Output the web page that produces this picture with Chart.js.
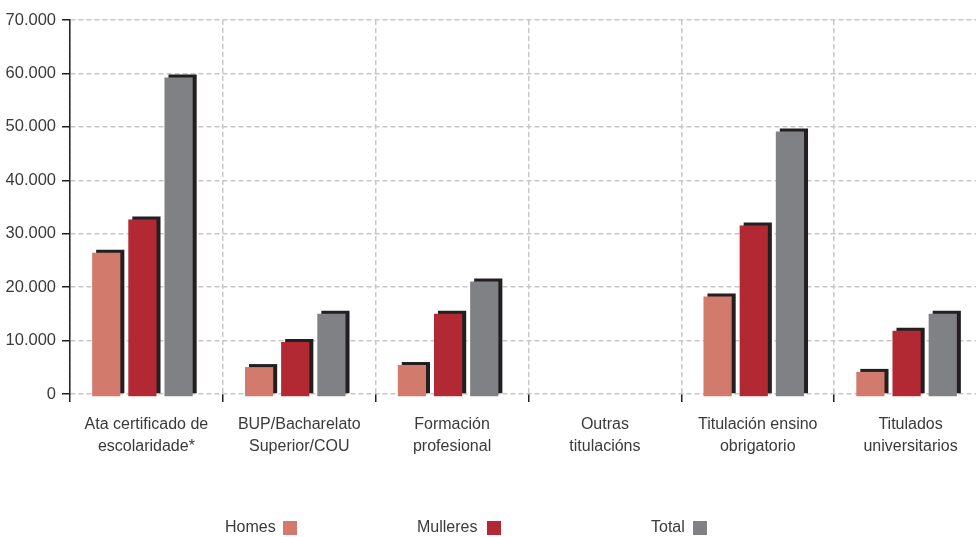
<!DOCTYPE html>
<html>
<head>
<meta charset="utf-8">
<script src="https://cdn.jsdelivr.net/npm/chart.js@4.4.1/dist/chart.umd.min.js"></script>
<style>
    html, body { margin: 0; padding: 0; background: #fff; overflow: hidden; }
    #frame { position: relative; width: 976px; height: 537px; overflow: hidden; }
    #box { position: absolute; left: 0; top: 0; width: 990px; height: 537px; }
    .lg-text { position: absolute; top: 516px; font: 16px 'Liberation Sans', Arial, sans-serif; color: #3a3a3a; line-height: 22px; }
    .lg-box { position: absolute; top: 521px; width: 14px; height: 14px; }
</style>
</head>
<body>
<div id="frame">
    <div id="box"><canvas id="chart"></canvas></div>
    <span class="lg-text" style="left:225px">Homes</span>
    <span class="lg-box" style="left:283px;background:#d27a6c"></span>
    <span class="lg-text" style="left:417px">Mulleres</span>
    <span class="lg-box" style="left:487px;background:#b22833"></span>
    <span class="lg-text" style="left:651px">Total</span>
    <span class="lg-box" style="left:693px;background:#808185"></span>
</div>
<script>
const categories = [
    ['Ata certificado de', 'escolaridade*'],
    ['BUP/Bacharelato', 'Superior/COU'],
    ['Formación', 'profesional'],
    ['Outras', 'titulacións'],
    ['Titulación ensino', 'obrigatorio'],
    ['Titulados', 'universitarios']
];
const homes = [27000, 5600, 6000, 0, 18800, 4700];
const mulleres = [33200, 10300, 15600, 0, 32100, 12400];
const total = [59800, 15600, 21600, 0, 49700, 15600];
const yTicks = [0, 10000, 20000, 30000, 40000, 50000, 60000, 70000];

const fontFamily = "'Liberation Sans', Arial, sans-serif";
const textColor = '#3a3a3a';
const gridColor = '#c8c8c8';

function formatThousands(v) {
    return String(v).replace(/\B(?=(\d{3})+(?!\d))/g, '.');
}

// dark offset block behind each bar, coloured face shifted down-left
const barShadow = {
    id: 'barShadow',
    beforeDatasetDraw(chart) {
        const ctx = chart.ctx;
        ctx.save();
        ctx.translate(-4, 3);
        ctx.shadowColor = '#231f20';
        ctx.shadowOffsetX = 4;
        ctx.shadowOffsetY = -3;
        ctx.shadowBlur = 0;
    },
    afterDatasetDraw(chart) {
        chart.ctx.restore();
    }
};

const ctx = document.getElementById('chart').getContext('2d');
new Chart(ctx, {
    type: 'bar',
    data: {
        labels: categories,
        datasets: [
            { label: 'Homes', data: homes, backgroundColor: '#d27a6c', clip: false },
            { label: 'Mulleres', data: mulleres, backgroundColor: '#b22833', clip: false },
            { label: 'Total', data: total, backgroundColor: '#808185', clip: false }
        ]
    },
    options: {
        responsive: true,
        maintainAspectRatio: false,
        animation: false,
        layout: { padding: { left: 0, right: 3, top: 20, bottom: 0 } },
        datasets: {
            bar: { categoryPercentage: 0.71, barPercentage: 0.78, borderWidth: 0 }
        },
        plugins: {
            legend: { display: false },
            tooltip: { enabled: false }
        },
        scales: {
            x: {
                grid: {
                    offset: true,
                    color: gridColor,
                    lineWidth: 1.5,
                    drawTicks: true,
                    tickLength: 8,
                    tickColor: '#231f20',
                    tickWidth: 1.5,
                    tickBorderDash: []
                },
                border: { display: false, dash: [5, 3] },
                ticks: {
                    color: textColor,
                    padding: 12,
                    font: { family: fontFamily, size: 16, lineHeight: 1.375 },
                    maxRotation: 0
                },
                afterFit(axis) { axis.height = 143; }
            },
            y: {
                min: 0,
                max: 70000,
                afterBuildTicks(axis) { axis.ticks = yTicks.map(v => ({ value: v })); },
                grid: {
                    color: gridColor,
                    lineWidth: 1.5,
                    tickLength: 8,
                    tickColor: '#231f20',
                    tickWidth: 1.5,
                    tickBorderDash: []
                },
                border: { display: true, color: '#231f20', width: 1.5, dash: [5, 3] },
                ticks: {
                    color: textColor,
                    padding: 6,
                    font: { family: fontFamily, size: 16.5 },
                    callback: v => formatThousands(v)
                },
                afterFit(axis) { axis.width = 70; }
            }
        }
    },
    plugins: [barShadow]
});
</script>
</body>
</html>
